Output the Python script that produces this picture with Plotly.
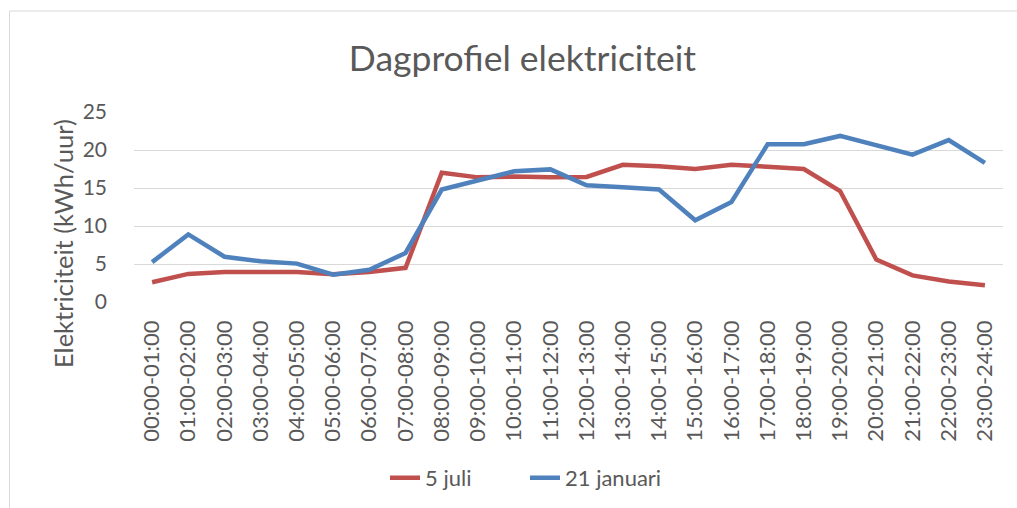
import plotly.graph_objects as go

categories = ["00:00-01:00", "01:00-02:00", "02:00-03:00", "03:00-04:00", "04:00-05:00",
              "05:00-06:00", "06:00-07:00", "07:00-08:00", "08:00-09:00", "09:00-10:00",
              "10:00-11:00", "11:00-12:00", "12:00-13:00", "13:00-14:00", "14:00-15:00",
              "15:00-16:00", "16:00-17:00", "17:00-18:00", "18:00-19:00", "19:00-20:00",
              "20:00-21:00", "21:00-22:00", "22:00-23:00", "23:00-24:00"]

juli = [2.6, 3.7, 3.95, 3.95, 3.95, 3.65, 3.95, 4.5, 17.0, 16.4, 16.5, 16.4,
        16.45, 18.05, 17.85, 17.5, 18.05, 17.8, 17.5, 14.6, 5.6, 3.5, 2.7, 2.2]

januari = [5.25, 8.9, 5.95, 5.35, 5.05, 3.6, 4.25, 6.45, 14.8, 16.0, 17.2, 17.45,
           15.35, 15.1, 14.8, 10.75, 13.15, 20.75, 20.75, 21.85, 20.6, 19.4, 21.3, 18.3]

yticks = [0, 5, 10, 15, 20, 25]

FONT = "Lato"
GRAY = "#595959"

fig = go.Figure()
fig.add_trace(go.Scatter(x=categories, y=juli, mode="lines", name="5 juli",
                         line=dict(color="#C0504D", width=4.5)))
fig.add_trace(go.Scatter(x=categories, y=januari, mode="lines", name="21 januari",
                         line=dict(color="#4F81BD", width=4.5)))

fig.update_layout(
    width=1017, height=508,
    margin=dict(l=134, r=14, t=112, b=206, autoexpand=False),
    paper_bgcolor="white", plot_bgcolor="white",
    font=dict(family=FONT, color=GRAY, size=22),
    title=dict(text="Dagprofiel elektriciteit", font=dict(size=35.5, color=GRAY, family=FONT),
               x=0.447, xref="paper", xanchor="center",
               y=1 - 59 / 508, yref="container", yanchor="middle"),
    showlegend=True,
    legend=dict(orientation="h", xanchor="left", x=(385 - 134) / 869, yanchor="middle", y=-0.926,
                entrywidth=95, entrywidthmode="pixels",
                font=dict(size=22, color=GRAY, family=FONT)),
    xaxis=dict(type="category", range=[-0.5, 23.5], tickangle=-90, showgrid=False,
               showline=False, ticks="", ticklabelstandoff=13,
               tickfont=dict(size=22, color=GRAY, family=FONT), zeroline=False),
    yaxis=dict(range=[0, 25], tickvals=yticks, showgrid=True, gridcolor="#D9D9D9",
               gridwidth=1.3, zeroline=False, showline=False, ticks="",
               ticklabelstandoff=26, tickfont=dict(size=21, color=GRAY, family=FONT)),
)

fig.add_annotation(text="Elektriciteit (kWh/uur)", textangle=-90, xref="paper", yref="paper",
                   x=(63 - 134) / 869, y=(302 - 244) / 190, showarrow=False,
                   xanchor="center", yanchor="middle",
                   font=dict(size=25.5, color=GRAY, family=FONT))

# chart area border (Excel chart frame)
fig.add_shape(type="rect", xref="paper", yref="paper",
              x0=(9.5 - 134) / 869, x1=(1030 - 134) / 869,
              y0=(302 - 520) / 190, y1=(302 - 11) / 190,
              line=dict(color="#D9D9D9", width=1), fillcolor="rgba(0,0,0,0)", layer="below")

fig.write_html("out.html", config={"displayModeBar": False},
               post_script="document.body.style.margin='0px';")
